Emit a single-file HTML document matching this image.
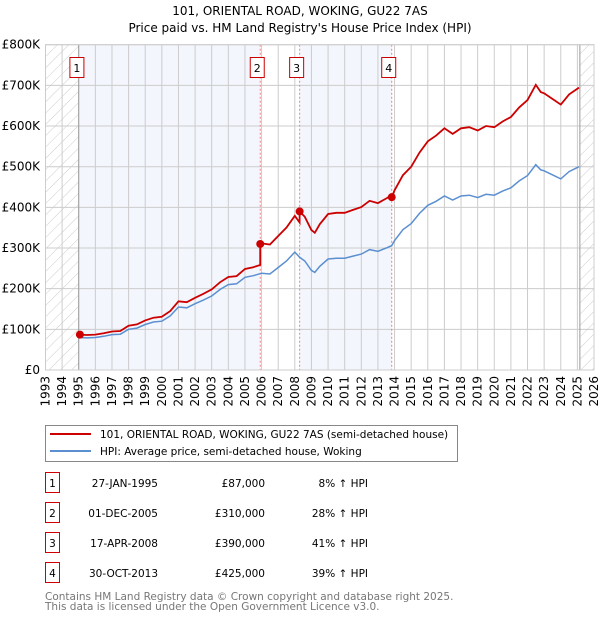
<!DOCTYPE html>
<html><head><meta charset="utf-8"><style>
body{margin:0;background:#fff;font-family:"Liberation Sans","DejaVu Sans",sans-serif;}
svg{display:block}
</style></head><body>
<svg id="c" width="600" height="620" xmlns="http://www.w3.org/2000/svg" font-family="DejaVu Sans, Liberation Sans, sans-serif">
<defs>
<pattern id="hatch" patternUnits="userSpaceOnUse" width="8" height="8" patternTransform="rotate(45)">
<line x1="0" y1="0" x2="0" y2="8" stroke="#ccc" stroke-width="1"/></pattern>
</defs>
<text x="300" y="15" text-anchor="middle" font-size="12">101, ORIENTAL ROAD, WOKING, GU22 7AS</text>
<text x="300" y="32" text-anchor="middle" font-size="12">Price paid vs. HM Land Registry's House Price Index (HPI)</text>
<g id="plot"></g>
<g>
<rect x="45.5" y="425.5" width="412" height="36" fill="#fff" stroke="#888"/>
<line x1="50" y1="434" x2="91" y2="434" stroke="#cc0000" stroke-width="2"/>
<text x="100" y="438" font-size="10.5">101, ORIENTAL ROAD, WOKING, GU22 7AS (semi-detached house)</text>
<line x1="50" y1="451" x2="91" y2="451" stroke="#5b8fd0" stroke-width="2"/>
<text x="100" y="455" font-size="10.5">HPI: Average price, semi-detached house, Woking</text>
</g>
<g id="tbl" font-size="10.5"></g>
<text x="45" y="600" font-size="10.5" fill="#777">Contains HM Land Registry data © Crown copyright and database right 2025.</text>
<text x="45" y="610" font-size="10.5" fill="#777">This data is licensed under the Open Government Licence v3.0.</text>
</svg>
<script>
const hpiYears=[1995.0,1995.5,1996,1996.5,1997,1997.5,1998,1998.5,1999,1999.5,2000,2000.5,2001,2001.5,2002,2002.5,2003,2003.5,2004,2004.5,2005,2005.5,2006,2006.5,2007,2007.5,2008,2008.3,2008.6,2009,2009.2,2009.5,2010,2010.5,2011,2011.5,2012,2012.5,2013,2013.5,2013.83,2014,2014.5,2015,2015.5,2016,2016.5,2017,2017.5,2018,2018.5,2019,2019.5,2020,2020.5,2021,2021.5,2022,2022.5,2022.8,2023,2023.5,2024,2024.5,2025.1];
const hpiValues=[80,79,80,83,87,88,100,103,112,118,120,133,155,153,163,172,182,198,210,212,228,232,238,236,252,268,290,277,268,245,240,255,273,275,275,280,285,296,292,300,306,318,345,360,385,405,415,428,418,428,430,424,432,430,440,448,465,478,505,492,490,480,470,488,500];
const saleYears=[1995.07,2005.92,2008.29,2013.83];
const salePrices=[87,310,390,425];
const saleLabels=['1','2','3','4'];
const saleDates=['27-JAN-1995','01-DEC-2005','17-APR-2008','30-OCT-2013'];
const salePriceText=['£87,000','£310,000','£390,000','£425,000'];
const saleHpiText=['8% ↑ HPI','28% ↑ HPI','41% ↑ HPI','39% ↑ HPI'];
const yTicks=[0,100,200,300,400,500,600,700,800];
const yTickLabels=['£0','£100K','£200K','£300K','£400K','£500K','£600K','£700K','£800K'];
const xTicks=[1993,1994,1995,1996,1997,1998,1999,2000,2001,2002,2003,2004,2005,2006,2007,2008,2009,2010,2011,2012,2013,2014,2015,2016,2017,2018,2019,2020,2021,2022,2023,2024,2025,2026];

const X0=45.5,X1=594,Y0=370,Y1=44.7;
const sx=y=>X0+(y-1993)/(2026-1993)*(X1-X0);
const sy=v=>Y0-(v/800)*(Y0-Y1);
const NS='http://www.w3.org/2000/svg';
const plot=document.getElementById('plot');
function mk(tag,attrs,parent){const e=document.createElementNS(NS,tag);for(const k in attrs)e.setAttribute(k,attrs[k]);(parent||plot).appendChild(e);return e;}
function hpiAt(t){if(t<=hpiYears[0])return hpiValues[0];for(let i=1;i<hpiYears.length;i++){if(t<=hpiYears[i]){const f=(t-hpiYears[i-1])/(hpiYears[i]-hpiYears[i-1]);return hpiValues[i-1]+f*(hpiValues[i]-hpiValues[i-1]);}}return hpiValues[hpiValues.length-1];}

let e;
e=mk('rect',{x:sx(saleYears[0]),y:Y1,width:sx(saleYears[1])-sx(saleYears[0]),height:Y0-Y1,fill:'#f3f6fd'});


e=mk('rect',{x:sx(saleYears[2]),y:Y1,width:sx(saleYears[3])-sx(saleYears[2]),height:Y0-Y1,fill:'#f3f6fd'});


e=mk('rect',{x:X0,y:Y1,width:sx(1995)-X0,height:Y0-Y1,fill:'url(#hatch)'});


e=mk('rect',{x:sx(2025.15),y:Y1,width:X1-sx(2025.15),height:Y0-Y1,fill:'url(#hatch)'});


xTicks.forEach(t=>{e=mk('line',{x1:sx(t),x2:sx(t),y1:Y1,y2:Y0,stroke:'#ccc','stroke-width':1});


e=mk('text',{x:0,y:0,'font-size':12,'text-anchor':'end',transform:`translate(${sx(t)+4},376) rotate(-90)`});e.textContent=t;

});
yTicks.forEach((t,i)=>{e=mk('line',{x1:X0,x2:X1,y1:sy(t),y2:sy(t),stroke:'#ccc','stroke-width':1});


e=mk('text',{x:40,y:sy(t)+4,'font-size':12,'text-anchor':'end'});e.textContent=yTickLabels[i];

});
e=mk('line',{x1:sx(1995),x2:sx(1995),y1:Y1,y2:Y0,stroke:'#999'});


e=mk('line',{x1:sx(2025.15),x2:sx(2025.15),y1:Y1,y2:Y0,stroke:'#999'});


saleYears.forEach((s,i)=>{if(i>0){e=mk('line',{x1:sx(s),x2:sx(s),y1:Y1,y2:Y0,stroke:'#f08080','stroke-dasharray':'2,2'});

}});
let d='';hpiYears.forEach((t,i)=>{d+=(i?'L':'M')+sx(t).toFixed(1)+','+sy(hpiValues[i]).toFixed(1);});
e=mk('path',{d:d,fill:'none',stroke:'#5b8fd0','stroke-width':1.5});


const pts=[];
for(let k=0;k<saleYears.length;k++){const st=saleYears[k],en=k+1<saleYears.length?saleYears[k+1]:2025.1;const base=hpiAt(st);
 pts.push([st,salePrices[k]]);
 hpiYears.forEach((t,i)=>{if(t>st&&t<en)pts.push([t,salePrices[k]*hpiValues[i]/base]);});
 pts.push([en,salePrices[k]*hpiAt(en)/base]);}
d='';pts.forEach((p,i)=>{d+=(i?'L':'M')+sx(p[0]).toFixed(1)+','+sy(p[1]).toFixed(1);});
e=mk('path',{d:d,fill:'none',stroke:'#cc0000','stroke-width':1.8});


saleYears.forEach((s,i)=>{e=mk('circle',{cx:sx(s),cy:sy(salePrices[i]),r:4,fill:'#cc0000'});


e=mk('rect',{x:sx(s)-10,y:57.5,width:14,height:20,fill:'#fff',stroke:'#cc0000'});


e=mk('text',{x:sx(s)-3,y:72,'font-size':11,'text-anchor':'middle'});e.textContent=saleLabels[i];

});
e=mk('rect',{x:X0,y:Y1,width:X1-X0,height:Y0-Y1,fill:'none',stroke:'#ccc'});


const tbl=document.getElementById('tbl');
saleYears.forEach((s,i)=>{const y=483+i*30;
 e=mk('rect',{x:45.5,y:y-10.5,width:14,height:20,fill:'#fff',stroke:'#cc0000'},tbl);
 
 
 e=mk('text',{x:52.5,y:y+4,'text-anchor':'middle'},tbl);e.textContent=saleLabels[i];
 
 
 e=mk('text',{x:158,y:y+4,'text-anchor':'end'},tbl);e.textContent=saleDates[i];
 
 
 e=mk('text',{x:265,y:y+4,'text-anchor':'end'},tbl);e.textContent=salePriceText[i];
 
 
 e=mk('text',{x:368,y:y+4,'text-anchor':'end'},tbl);e.textContent=saleHpiText[i];
 
 });
</script>
</body></html>
